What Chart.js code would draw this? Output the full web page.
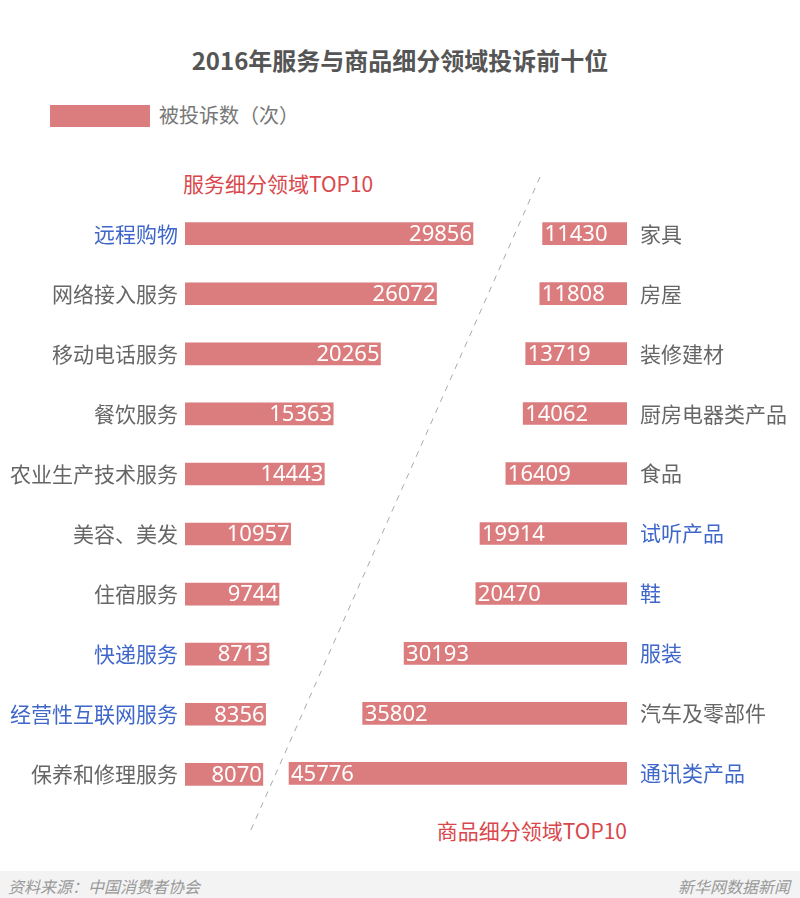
<!DOCTYPE html>
<html lang="zh">
<head>
<meta charset="UTF-8">
<title>2016年服务与商品细分领域投诉前十位</title>
<script src="https://cdn.jsdelivr.net/npm/chart.js"></script>
<style>
    body {
        margin: 0;
        width: 800px;
        height: 898px;
        position: relative;
        background: #fff;
        font-family: 'Noto Sans CJK SC', 'Noto Sans', sans-serif;
        overflow: hidden;
    }
    .abs { position: absolute; }
    .title {
        left: 0; width: 800px; top: 42px;
        text-align: center;
        font-size: 24px;
        font-weight: bold;
        color: #555;
    }
    .legend-box { left: 50px; top: 105px; width: 100px; height: 22px; background: #db7d7e; }
    .legend-text { left: 159px; top: 100px; font-size: 20px; color: #777; }
    .sub { font-size: 21px; color: #d9474c; }
    .footer {
        left: 0; top: 871px; width: 800px; height: 27px;
        background: #f3f3f3;
        color: #999;
        font-size: 16px;
        font-style: italic;
    }
    .footer span { position: absolute; top: 3px; }
</style>
</head>
<body>

<div class="abs title">2016年服务与商品细分领域投诉前十位</div>
<div class="abs legend-box"></div>
<div class="abs legend-text">被投诉数（次）</div>
<div class="abs sub" style="left:183px; top:168px;">服务细分领域TOP10</div>
<div class="abs sub" style="right:173px; top:815px;">商品细分领域TOP10</div>

<svg class="abs" style="left:0; top:0;" width="800" height="898">
    <line x1="540" y1="177" x2="250" y2="832" stroke="#aaa" stroke-width="1" stroke-dasharray="6,6"/>
</svg>

<div class="abs" style="left:0; top:184px; width:484px; height:640px;"><canvas id="serviceChart"></canvas></div>
<div class="abs" style="left:280px; top:178px; width:520px; height:651px;"><canvas id="goodsChart"></canvas></div>

<div class="abs footer">
    <span style="left:8px;">资料来源：中国消费者协会</span>
    <span style="right:10px;">新华网数据新闻</span>
</div>

<script>
    const serviceLabels = ["远程购物", "网络接入服务", "移动电话服务", "餐饮服务", "农业生产技术服务",
        "美容、美发", "住宿服务", "快递服务", "经营性互联网服务", "保养和修理服务"];
    const serviceValues = [29856, 26072, 20265, 15363, 14443, 10957, 9744, 8713, 8356, 8070];
    const serviceBlue = ["远程购物", "快递服务", "经营性互联网服务"];

    const goodsLabels = ["家具", "房屋", "装修建材", "厨房电器类产品", "食品",
        "试听产品", "鞋", "服装", "汽车及零部件", "通讯类产品"];
    const goodsValues = [11430, 11808, 13719, 14062, 16409, 19914, 20470, 30193, 35802, 45776];
    const goodsBlue = ["试听产品", "鞋", "服装", "通讯类产品"];

    const barColor = "#db7d7e";
    const grey = "#666";
    const blue = "#3f67c9";

    // value labels inside the bars, at the far end (left chart) or near end (right chart)
    const valueLabels = {
        id: "valueLabels",
        afterDatasetsDraw(chart, args, opts) {
            const ctx = chart.ctx;
            const meta = chart.getDatasetMeta(0);
            ctx.save();
            ctx.font = "22px 'Noto Sans', sans-serif";
            ctx.fillStyle = "#fff";
            ctx.textBaseline = "middle";
            meta.data.forEach((bar, i) => {
                const v = chart.data.datasets[0].data[i];
                if (opts.side === "end") {
                    ctx.textAlign = "right";
                    ctx.fillText(v, bar.x - 1, bar.y + 1);
                } else {
                    ctx.textAlign = "left";
                    ctx.fillText(v, bar.x + 2, bar.y + 1);
                }
            });
            ctx.restore();
        }
    };

    function makeChart(id, labels, values, blueList, reversed, max) {
        return new Chart(document.getElementById(id), {
            type: "bar",
            data: {
                labels,
                datasets: [{ data: values, backgroundColor: barColor, barThickness: 22 }]
            },
            options: {
                indexAxis: "y",
                responsive: true,
                maintainAspectRatio: false,
                animation: false,
                layout: { padding: 0 },
                plugins: {
                    legend: { display: false },
                    tooltip: { enabled: false },
                    valueLabels: { side: reversed ? "start" : "end" }
                },
                scales: {
                    x: { display: false, min: 0, max, reverse: reversed },
                    y: {
                        position: reversed ? "right" : "left",
                        grid: { display: false, drawTicks: false },
                        border: { display: false },
                        afterFit: s => { s.width = reversed ? 173 : 185; },
                        ticks: {
                            padding: reversed ? 13 : 7,
                            font: { size: 21, family: "'Noto Sans CJK SC', sans-serif" },
                            color: c => blueList.includes(labels[c.index]) ? blue : grey
                        }
                    }
                }
            },
            plugins: [valueLabels]
        });
    }

    makeChart("serviceChart", serviceLabels, serviceValues, serviceBlue, false, 31000);
    makeChart("goodsChart", goodsLabels, goodsValues, goodsBlue, true, 47000);
</script>
</body>
</html>
